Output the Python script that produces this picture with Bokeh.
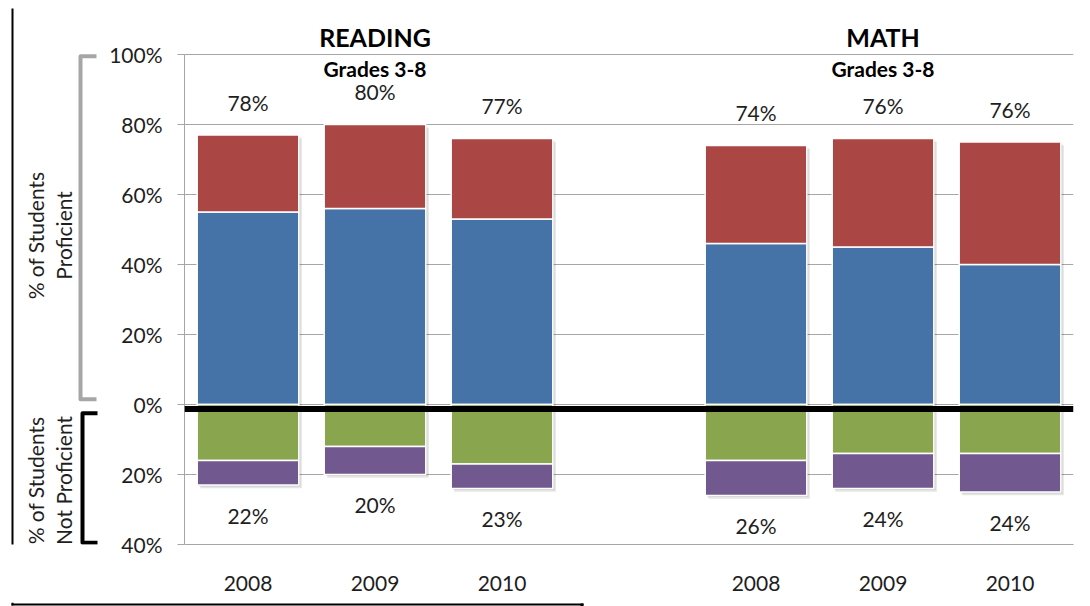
import math
from bokeh.plotting import figure
from bokeh.layouts import row, column
from bokeh.models import Range1d, FixedTicker, ColumnDataSource, Span, Spacer
from bokeh.core.properties import value
from bokeh.embed import file_html
from bokeh.resources import INLINE

# ---------------- data ----------------
subjects = ["READING", "MATH"]
subtitle = "Grades 3-8"
years = ["2008", "2009", "2010"]
# proficient (stacked upward)
prof_blue = [55, 56, 53, 46, 45, 40]
prof_red = [22, 24, 23, 28, 31, 35]
# not proficient (stacked downward)
notprof_green = [16, 12, 17, 16, 14, 14]
notprof_purple = [7, 8, 7, 10, 10, 11]
# printed labels
prof_labels = [78, 80, 77, 74, 76, 76]
notprof_labels = [22, 20, 23, 26, 24, 24]
y_ticks = [-40, -20, 0, 20, 40, 60, 80, 100]
axis_title_top = ["% of Students", "Proficient"]
axis_title_bottom = ["% of Students", "Not Proficient"]

# ---------------- style ----------------
FONT = "Lato"
TXT = "#1e1e1e"
BLUE, RED, GREEN, PURPLE = "#4572A7", "#AA4643", "#89A54E", "#71588F"
GRID = "#a6a6a6"
PX = 3.5               # pixels per percentage point
TOP_V = 100 + 46 / PX  # value at the top edge of the chart row
LEFT_W = 104
ROW_H = 590

xs = [g * 4 + i + 0.5 for g in range(len(subjects)) for i in range(len(years))]
year_lab = [y for _ in subjects for y in years]

b_top = prof_blue
r_top = [b + r for b, r in zip(prof_blue, prof_red)]
g_bot = [-g for g in notprof_green]
p_bot = [-(g + q) for g, q in zip(notprof_green, notprof_purple)]

src = ColumnDataSource(dict(
    x=xs, b_top=b_top, r_top=r_top, g_bot=g_bot, p_bot=p_bot,
    zero=[0] * len(xs),
    top_lab=[f"{v}%" for v in prof_labels],
    bot_lab=[f"{v}%" for v in notprof_labels],
    top_lab_y=[t + 9.3 for t in r_top],
    bot_lab_y=[b - 8.7 for b in p_bot],
    xsh1=[x + 0.012 for x in xs], xsh2=[x + 0.024 for x in xs],
    r_top_s1=[t - 0.45 for t in r_top], p_bot_s1=[b - 0.45 for b in p_bot],
    r_top_s2=[t - 0.9 for t in r_top], p_bot_s2=[b - 0.9 for b in p_bot],
))

# ---------------- main chart ----------------
p = figure(width=1090 - LEFT_W, height=ROW_H, x_range=Range1d(0, 7), y_range=Range1d(-40, TOP_V),
           toolbar_location=None, output_backend="svg", title=None,
           min_border_left=80, min_border_right=17, min_border_top=0, min_border_bottom=54)
p.outline_line_color = None
p.background_fill_color = "white"
p.xgrid.visible = False
p.ygrid.ticker = FixedTicker(ticks=y_ticks)
p.ygrid.grid_line_color = GRID
p.ygrid.grid_line_width = 1

p.yaxis.ticker = FixedTicker(ticks=y_ticks)
p.yaxis.major_label_overrides = {t: f"{abs(t)}%" for t in y_ticks}
p.yaxis.bounds = (-40, 100)
p.yaxis.axis_line_color = GRID
p.yaxis.major_tick_line_color = GRID
p.yaxis.major_tick_out = 7
p.yaxis.major_tick_in = 0
p.yaxis.minor_tick_line_color = None
p.yaxis.major_label_standoff = 15

p.xaxis.ticker = FixedTicker(ticks=xs)
p.xaxis.major_label_overrides = {x: y for x, y in zip(xs, year_lab)}
p.xaxis.axis_line_color = GRID
p.xaxis.major_tick_line_color = None
p.xaxis.minor_tick_line_color = None
p.xaxis.major_label_standoff = 25

for ax in (p.xaxis, p.yaxis):
    ax.major_label_text_font = FONT
    ax.major_label_text_font_size = "21px"
    ax.major_label_text_color = TXT

W = 0.8
for xcol, tcol, bcol in (("xsh2", "r_top_s2", "p_bot_s2"), ("xsh1", "r_top_s1", "p_bot_s1")):
    p.vbar(x=xcol, top=tcol, bottom="zero", width=W, source=src,
           fill_color="black", fill_alpha=0.10, line_color=None)
    p.vbar(x=xcol, top="zero", bottom=bcol, width=W, source=src,
           fill_color="black", fill_alpha=0.10, line_color=None)

p.vbar(x="x", bottom="zero", top="b_top", width=W, source=src,
       fill_color=BLUE, line_color="white", line_width=1.5)
p.vbar(x="x", bottom="b_top", top="r_top", width=W, source=src,
       fill_color=RED, line_color="white", line_width=1.5)
p.vbar(x="x", top="zero", bottom="g_bot", width=W, source=src,
       fill_color=GREEN, line_color="white", line_width=1.5)
p.vbar(x="x", top="g_bot", bottom="p_bot", width=W, source=src,
       fill_color=PURPLE, line_color="white", line_width=1.5)

p.add_layout(Span(location=-1.3, dimension="width", line_color="black", line_width=6))

p.text(x="x", y="top_lab_y", text="top_lab", source=src, text_align="center",
       text_baseline="alphabetic", text_font=value(FONT), text_font_size="21px", text_color=TXT)
p.text(x="x", y="bot_lab_y", text="bot_lab", source=src, text_align="center",
       text_baseline="alphabetic", text_font=value(FONT), text_font_size="21px", text_color=TXT)

grp_x = [g * 4 + len(years) / 2 for g in range(len(subjects))]
p.text(x=grp_x, y=[105.1] * 2, text=subjects, text_align="center",
       text_baseline="alphabetic", text_font=value(FONT), text_font_size="25px",
       text_font_style="bold", text_color="black")
p.text(x=grp_x, y=[95.9] * 2, text=[subtitle] * 2, text_align="center",
       text_baseline="alphabetic", text_font=value(FONT), text_font_size="21px",
       text_font_style="bold", text_color="black")

# ---------------- left strip (brackets + axis titles) ----------------
left = figure(width=LEFT_W, height=ROW_H, x_range=Range1d(0, LEFT_W), y_range=p.y_range,
              toolbar_location=None, output_backend="svg", title=None,
              x_axis_location=None, y_axis_location=None, min_border=0)
left.outline_line_color = None
left.grid.visible = False

left.line(x=[96, 80, 80, 96], y=[99.5, 99.5, 1.5, 1.5], line_color="#a6a6a6",
          line_width=4, line_join="round")
left.line(x=[97, 82, 82, 97], y=[-2.5, -2.5, -39.5, -39.5], line_color="black",
          line_width=4, line_join="round")
left.line(x=[12, 12], y=[-45, TOP_V + 1], line_color="black", line_width=2)

left.text(x=[35, 63], y=[48.3, 48.3], text=axis_title_top, angle=math.pi / 2,
          text_align="center", text_baseline="middle", text_font=value(FONT),
          text_font_size="21px", text_color=TXT)
left.text(x=[35, 63], y=[-21.7, -21.7], text=axis_title_bottom, angle=math.pi / 2,
          text_align="center", text_baseline="middle", text_font=value(FONT),
          text_font_size="21px", text_color=TXT)


# ---------------- page frame pieces ----------------
def black_bar(w, h):
    b = figure(width=w, height=h, toolbar_location=None, output_backend="svg", title=None,
               x_axis_location=None, y_axis_location=None, min_border=0)
    b.outline_line_color = None
    b.grid.visible = False
    b.background_fill_color = "black"
    b.border_fill_color = "black"
    return b


top_strip = column(Spacer(width=1090, height=6),
                   row(Spacer(width=11, height=2), black_bar(1079, 2)))

bottom_strip = figure(width=1090, height=8, x_range=Range1d(0, 1090),
                      y_range=Range1d(0, 8), toolbar_location=None,
                      output_backend="svg", title=None,
                      x_axis_location=None, y_axis_location=None, min_border=0)
bottom_strip.outline_line_color = None
bottom_strip.grid.visible = False
bottom_strip.quad(left=[11, 11, 580], right=[583, 13, 583], bottom=[5, 5, 0], top=[7, 8, 7],
                  fill_color="black", line_color=None)

layout = column(top_strip, row(left, p), bottom_strip)
open("out.html", "w").write(file_html(layout, INLINE))
